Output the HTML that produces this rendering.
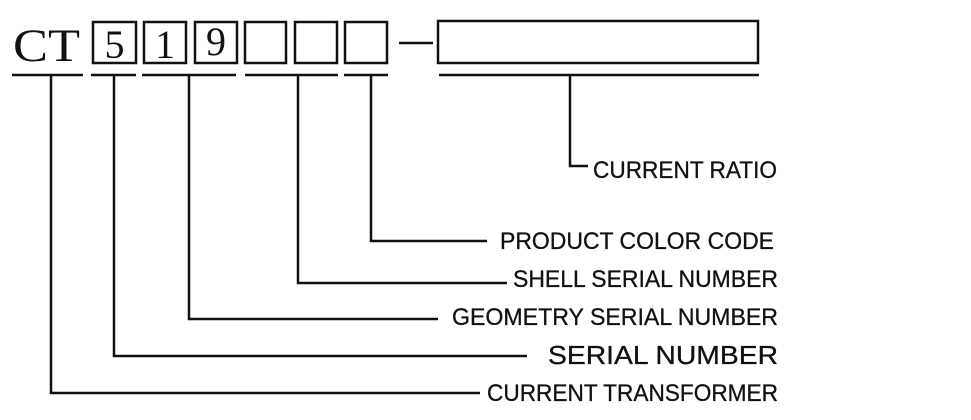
<!DOCTYPE html>
<html><head><meta charset="utf-8"><style>html,body{margin:0;padding:0;background:#fff;}svg{display:block}</style></head>
<body>
<svg width="971" height="420" viewBox="0 0 971 420" xmlns="http://www.w3.org/2000/svg">
<g fill="none" stroke="#111" stroke-width="2.5">
<rect x="93" y="22" width="43" height="41"/>
<rect x="144" y="22" width="42" height="41"/>
<rect x="195" y="22" width="42" height="41"/>
<rect x="245" y="22" width="41" height="41"/>
<rect x="295" y="22" width="42" height="41"/>
<rect x="345" y="22" width="42" height="41"/>
<rect x="438" y="21" width="320" height="42"/>
<line x1="399" y1="43" x2="433" y2="43"/>
<line x1="12" y1="75" x2="83" y2="75"/>
<line x1="91" y1="75" x2="136" y2="75"/>
<line x1="142" y1="75" x2="236" y2="75"/>
<line x1="245" y1="75" x2="338" y2="75"/>
<line x1="344" y1="75" x2="388" y2="75"/>
<line x1="439" y1="75" x2="759" y2="75"/>
<polyline points="51,75 51,393 480,393"/>
<polyline points="114,75 114,356 527,356"/>
<polyline points="189,75 189,319 438,319"/>
<polyline points="298,75 298,283 507,283"/>
<polyline points="371,75 371,241 487,241"/>
<polyline points="570,75 570,166 588,166"/>
</g>
<g font-family="Liberation Serif, serif" fill="#111">
<text x="13" y="61" font-size="47" textLength="67" lengthAdjust="spacingAndGlyphs">CT</text>
<text x="114.5" y="58" font-size="40" text-anchor="middle">5</text>
<text x="165" y="58" font-size="40" text-anchor="middle">1</text>
<text x="216" y="55" font-size="40" text-anchor="middle">9</text>
</g>
<g font-family="Liberation Sans, sans-serif" fill="#111" font-size="24" stroke="#111" stroke-width="0.3">
<text x="593" y="178" textLength="184" lengthAdjust="spacingAndGlyphs">CURRENT RATIO</text>
<text x="500" y="249" textLength="274" lengthAdjust="spacingAndGlyphs">PRODUCT COLOR CODE</text>
<text x="513" y="287" textLength="265" lengthAdjust="spacingAndGlyphs">SHELL SERIAL NUMBER</text>
<text x="452" y="325" textLength="326" lengthAdjust="spacingAndGlyphs">GEOMETRY SERIAL NUMBER</text>
<text x="548" y="364" font-size="26" textLength="230" lengthAdjust="spacingAndGlyphs">SERIAL NUMBER</text>
<text x="487" y="401" textLength="291" lengthAdjust="spacingAndGlyphs">CURRENT TRANSFORMER</text>
</g>
</svg>
</body></html>
